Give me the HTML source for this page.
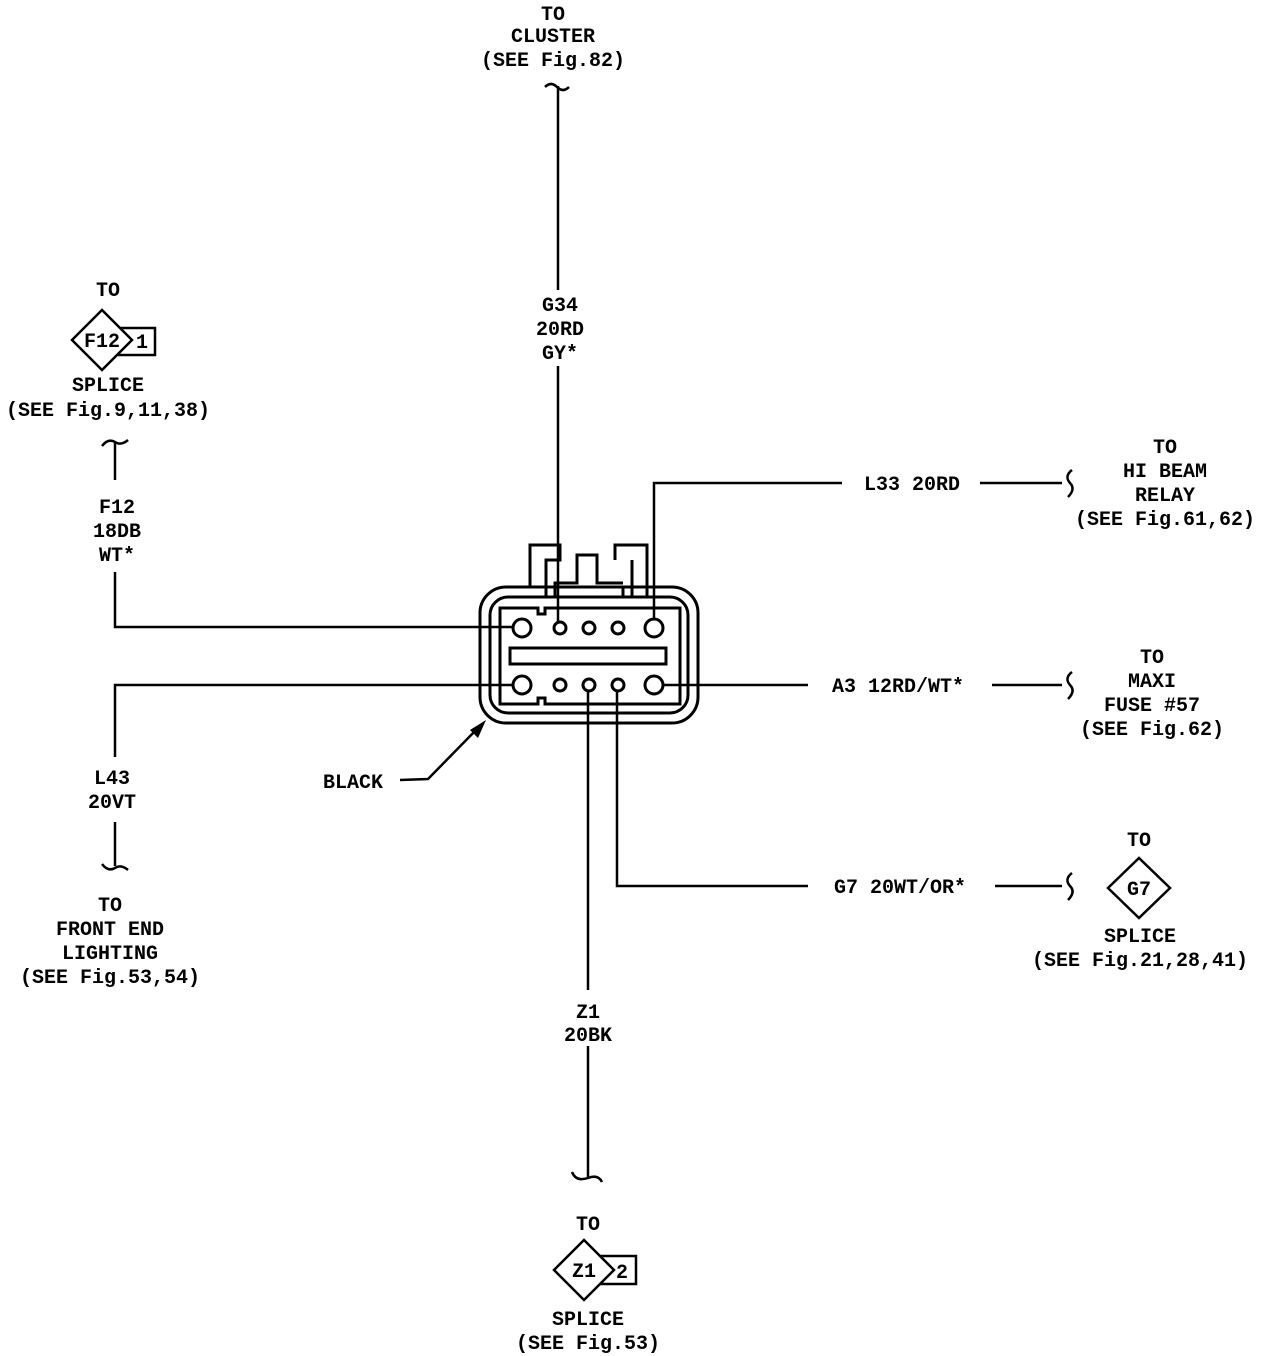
<!DOCTYPE html>
<html><head><meta charset="utf-8"><style>
html,body{margin:0;padding:0;background:#fff;}
svg{display:block;}
text{font-family:"Liberation Mono",monospace;font-weight:bold;font-size:20px;fill:#000;text-anchor:middle;}
</style></head><body>
<svg width="1280" height="1356" viewBox="0 0 1280 1356" xmlns="http://www.w3.org/2000/svg">
<g fill="none" stroke="#000" stroke-width="2.5">
<path d="M545 87 q6 -6 12 0 q6 6 12 0"/>
<line x1="558" y1="86" x2="558" y2="290"/>
<line x1="558" y1="366" x2="558" y2="622"/>
<path d="M102 446 q6 -8 13 -4 q6 4 13 -2"/>
<path d="M115 443 L115 480"/>
<path d="M115 572 L115 627 L513 627"/>
<path d="M654 619 L654 483 L842 483"/>
<line x1="980" y1="483" x2="1062" y2="483"/>
<path d="M1072 470 q-8 6 -2 13 q6 6 -2 14"/>
<line x1="663" y1="685" x2="808" y2="685"/>
<line x1="992" y1="685" x2="1062" y2="685"/>
<path d="M1072 672 q-8 6 -2 13 q6 6 -2 14"/>
<path d="M513 685 L115 685 L115 757"/>
<line x1="115" y1="822" x2="115" y2="866"/>
<path d="M102 864 q6 8 13 4 q6 -4 13 2"/>
<line x1="588" y1="691" x2="588" y2="990"/>
<line x1="588" y1="1046" x2="588" y2="1178"/>
<path d="M572 1172 q4 10 16 6 q10 -4 14 4"/>
<path d="M617 691 L617 886 L808 886"/>
<line x1="995" y1="886" x2="1062" y2="886"/>
<path d="M1072 873 q-8 6 -2 13 q6 6 -2 14"/>
<path d="M400 780 L428 779 L478 728"/>
</g>
<polygon points="486,720 470,730 478,738" fill="#000"/>
<g fill="none" stroke="#000" stroke-width="3">
<rect x="480" y="587" width="218" height="136" rx="26"/>
<rect x="490" y="597" width="198" height="116" rx="18"/>
<path d="M500 608 L538 608 L538 614 L545 614 L545 608 L680 608 L680 704 L545 704 L545 698 L538 698 L538 704 L500 704 Z"/>
<rect x="510" y="648" width="156" height="16"/>
<path d="M530 587 L530 545 L560 545 L560 560 L546 560 L546 597"/>
<path d="M555 597 L555 587 L623 587 L623 597"/>
<path d="M555 587 L555 583 L577 583 L577 555 L597 555 L597 583 L623 583"/>
<path d="M615 560 L615 545 L647 545 L647 597"/>
<path d="M632 560 L632 597"/>
<circle cx="522" cy="628" r="9"/><circle cx="560" cy="628" r="6"/><circle cx="589" cy="628" r="6"/><circle cx="618" cy="628" r="6"/><circle cx="654" cy="628" r="9"/>
<circle cx="522" cy="685" r="9"/><circle cx="560" cy="685" r="6"/><circle cx="589" cy="685" r="6"/><circle cx="618" cy="685" r="6"/><circle cx="654" cy="685" r="9"/>
</g>
<g fill="none" stroke="#000" stroke-width="2.5">
<path d="M118 328 L155 328 L155 355 L118 355"/>
<path d="M102 310 L132 340 L102 370 L72 340 Z" fill="#fff"/>
<path d="M598 1256 L636 1256 L636 1284 L598 1284"/>
<path d="M584 1240 L614 1270 L584 1300 L554 1270 Z" fill="#fff"/>
<path d="M1139 858 L1170 888 L1139 918 L1108 888 Z"/>
</g>
<text x="553" y="20">TO</text>
<text x="553" y="42">CLUSTER</text>
<text x="553" y="66">(SEE Fig.82)</text>
<text x="560" y="311">G34</text>
<text x="560" y="335">20RD</text>
<text x="560" y="359">GY*</text>
<text x="108" y="296">TO</text>
<text x="102" y="347">F12</text>
<text x="142" y="348">1</text>
<text x="108" y="391">SPLICE</text>
<text x="108" y="416">(SEE Fig.9,11,38)</text>
<text x="117" y="513">F12</text>
<text x="117" y="537">18DB</text>
<text x="117" y="561">WT*</text>
<text x="912" y="490">L33 20RD</text>
<text x="1165" y="453">TO</text>
<text x="1165" y="477">HI BEAM</text>
<text x="1165" y="501">RELAY</text>
<text x="1165" y="525">(SEE Fig.61,62)</text>
<text x="898" y="692">A3 12RD/WT*</text>
<text x="1152" y="663">TO</text>
<text x="1152" y="687">MAXI</text>
<text x="1152" y="711">FUSE #57</text>
<text x="1152" y="735">(SEE Fig.62)</text>
<text x="112" y="784">L43</text>
<text x="112" y="808">20VT</text>
<text x="110" y="911">TO</text>
<text x="110" y="935">FRONT END</text>
<text x="110" y="959">LIGHTING</text>
<text x="110" y="983">(SEE Fig.53,54)</text>
<text x="353" y="788">BLACK</text>
<text x="588" y="1018">Z1</text>
<text x="588" y="1041">20BK</text>
<text x="588" y="1230">TO</text>
<text x="584" y="1277">Z1</text>
<text x="622" y="1278">2</text>
<text x="588" y="1325">SPLICE</text>
<text x="588" y="1349">(SEE Fig.53)</text>
<text x="900" y="893">G7 20WT/OR*</text>
<text x="1139" y="846">TO</text>
<text x="1139" y="895">G7</text>
<text x="1140" y="942">SPLICE</text>
<text x="1140" y="966">(SEE Fig.21,28,41)</text>
</svg>
</body></html>
